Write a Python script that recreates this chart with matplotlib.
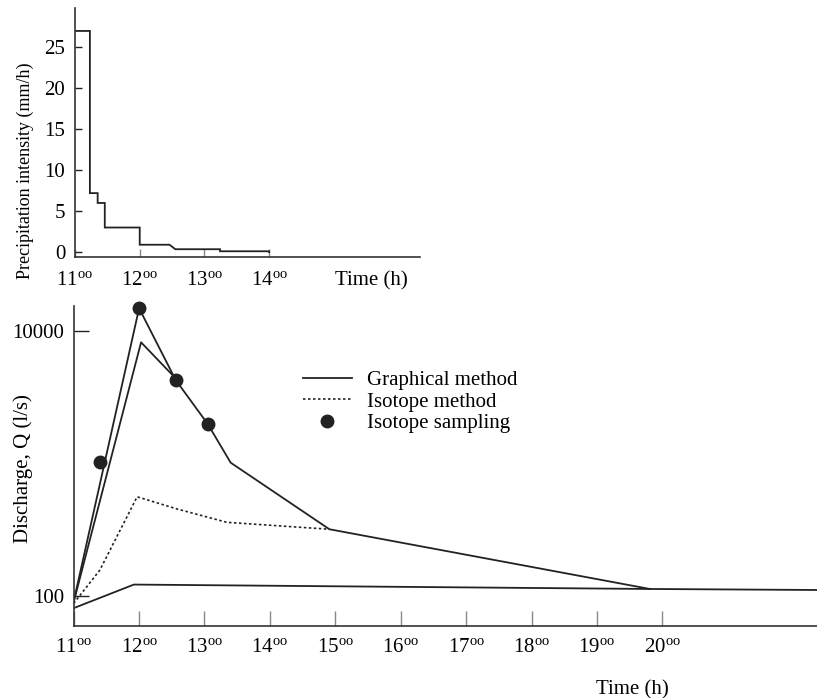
import matplotlib
matplotlib.use('Agg')
import matplotlib.pyplot as plt
from matplotlib.lines import Line2D

plt.rcParams['font.family'] = ['Liberation Serif', 'DejaVu Serif']
plt.rcParams['mathtext.fontset'] = 'custom'
plt.rcParams['mathtext.rm'] = 'Liberation Serif'
plt.rcParams['mathtext.it'] = 'Liberation Serif:italic'

# ---------- data ----------
# precipitation hyetograph (corner points of the step line)
rain_t = [11.0, 11.23, 11.23, 11.35, 11.35, 11.46, 11.46, 12.0, 12.0,
          12.46, 12.55, 13.24, 13.24, 14.0, 14.0]
rain_i = [27, 27, 7.2, 7.2, 6.0, 6.0, 3.0, 3.0, 0.9,
          0.9, 0.35, 0.35, 0.1, 0.1, 0.0]
rain_ticks = [11, 12, 13, 14]
rain_yticks = [0, 5, 10, 15, 20, 25]

# discharge hydrograph
graph_t = [11.0, 12.0, 12.56, 13.05, 13.4, 14.91, 19.81]
graph_q = [91, 14850, 4265, 1986, 1015, 319, 113]
inner_t = [11.0, 12.03, 12.52]
inner_q = [90, 8220, 4600]
base_t = [11.0, 11.92, 19.81, 22.4]
base_q = [81, 122, 113, 111]
iso_t = [11.0, 11.4, 11.97, 12.58, 13.34, 14.91]
iso_q = [88, 157, 561, 454, 360, 319]
samp_t = [11.40, 12.0, 12.56, 13.05]
samp_q = [1020, 14850, 4265, 1986]
q_ticks = [100, 10000]
q_hours = list(range(11, 21))

ink = '#222222'
tick_gray = '#888888'


def hour_label(h):
    return r'$\mathrm{%d^{oo}}$' % h


fig = plt.figure(figsize=(8.17, 6.98), dpi=100)

##############################
#   top: precipitation
##############################
ax1 = fig.add_axes([0.0918, 0.6318, 0.4223, 0.3567])
ax1.plot(rain_t, rain_i, color=ink, lw=1.3, solid_joinstyle='miter')
ax1.set_xlim(11, 16.33)
ax1.set_ylim(-0.6, 29.8)
ax1.set_xticks(rain_ticks)
ax1.set_xticklabels([hour_label(h) for h in rain_ticks], fontsize=15)
ax1.set_yticks(rain_yticks)
ax1.set_yticklabels([str(v) for v in rain_yticks], fontsize=15)
ax1.tick_params(axis='x', direction='in', length=6, width=1, color=tick_gray, pad=10)
ax1.tick_params(axis='y', direction='in', length=5, width=1, color=ink, pad=7)
for s in ['top', 'right']:
    ax1.spines[s].set_visible(False)
for s in ['left', 'bottom']:
    ax1.spines[s].set_linewidth(1.2)
    ax1.spines[s].set_color('#333333')
ax1.set_ylabel('Precipitation intensity (mm/h)', fontsize=13)
ax1.yaxis.set_label_coords(-0.12, 0.345)
ax1.set_xlabel('Time (h)', fontsize=15)
ax1.xaxis.set_label_coords(0.858, -0.095)
ax1.xaxis.label.set_verticalalignment('center')

##############################
#   bottom: discharge
##############################
ax2 = fig.add_axes([0.0902, 0.1036, 0.911, 0.458])
ax2.set_yscale('log')
ax2.plot(graph_t, graph_q, color=ink, lw=1.3)
ax2.plot(inner_t, inner_q, color=ink, lw=1.3)
ax2.plot(base_t, base_q, color=ink, lw=1.3)
ax2.plot(iso_t, iso_q, color=ink, lw=1.2, linestyle=(0, (1.5, 1.5)))
ax2.plot(samp_t, samp_q, 'o', color=ink, markersize=9, clip_on=False, zorder=5)
ax2.set_xlim(11, 22.38)
ax2.set_ylim(59.7, 15450)
ax2.set_xticks(q_hours)
ax2.set_xticklabels([hour_label(h) for h in q_hours], fontsize=15)
ax2.set_yticks(q_ticks)
ax2.set_yticklabels([str(v) for v in q_ticks], fontsize=15)
ax2.yaxis.set_minor_locator(matplotlib.ticker.NullLocator())
ax2.tick_params(axis='x', direction='in', length=11, width=1, color=tick_gray, pad=9)
ax2.tick_params(axis='y', direction='in', length=11, width=1, color=ink, pad=7)
for s in ['top', 'right']:
    ax2.spines[s].set_visible(False)
for s in ['left', 'bottom']:
    ax2.spines[s].set_linewidth(1.2)
    ax2.spines[s].set_color('#333333')
ax2.set_ylabel('Discharge, Q (l/s)', fontsize=15)
ax2.yaxis.set_label_coords(-0.055, 0.493)
ax2.set_xlabel('Time (h)', fontsize=15)
ax2.xaxis.set_label_coords(0.75, -0.2)
ax2.xaxis.label.set_verticalalignment('center')

handles = [
    Line2D([], [], color=ink, lw=1.3),
    Line2D([], [], color=ink, lw=1.2, linestyle=(0, (1.5, 1.5))),
    Line2D([], [], color=ink, marker='o', markersize=9, linestyle='none'),
]
labels = ['Graphical method', 'Isotope method', 'Isotope sampling']
fig.legend(handles, labels, loc='upper left', bbox_to_anchor=(0.3705, 0.4695),
           bbox_transform=fig.transFigure, frameon=False, fontsize=15,
           handlelength=2.35, handletextpad=0.75, labelspacing=0.1,
           borderpad=0, borderaxespad=0)

fig.savefig('out.png', dpi=100)
